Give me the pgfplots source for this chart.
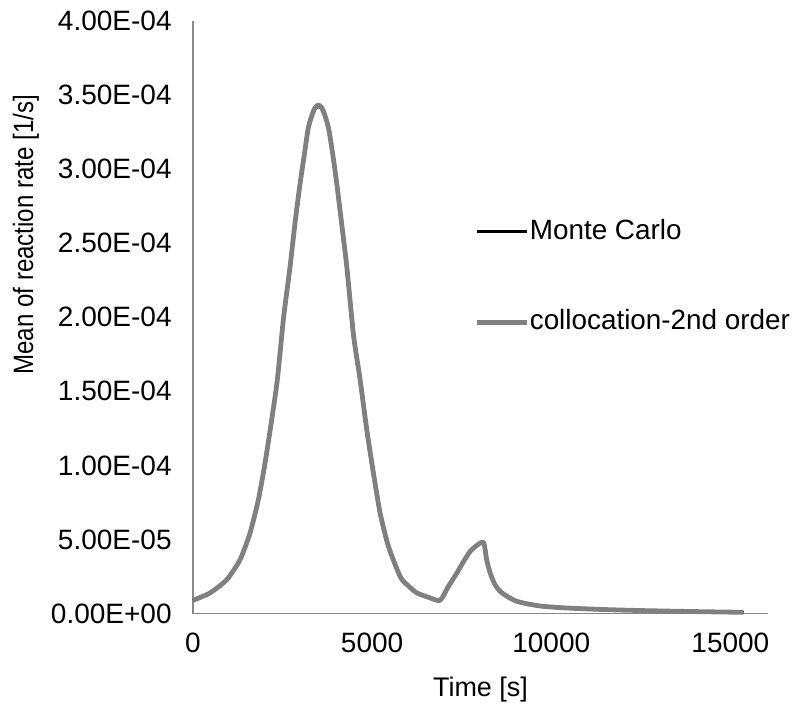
\documentclass[border=0pt]{standalone}
\usepackage{pgfplots}
\pgfplotsset{compat=1.18}
\usepackage{fontspec}
\setmainfont{Liberation Sans}
\newfontfamily\yfam{Liberation Sans}[FakeStretch=0.86]
\definecolor{axgray}{HTML}{898989}
\definecolor{colgray}{HTML}{808080}
\newcommand{\tfont}{\fontsize{21}{25}\selectfont}
\newcommand{\lfont}{\fontsize{20.9}{25}\selectfont}
\newcommand{\xfont}{\fontsize{20.2}{24}\selectfont}
\newcommand{\yfont}{\yfam\fontsize{21}{25}\selectfont}
\pgfplotstableread{
t v
0 9.0e-6
475 1.40e-5
941 2.29e-5
1313 3.64e-5
1592 5.44e-5
1824 7.68e-5
2011 1.016e-4
2198 1.31e-4
2355 1.58e-4
2530 2.00e-4
2709 2.34e-4
2850 2.64e-4
2988 2.90e-4
3110 3.10e-4
3221 3.28e-4
3360 3.39e-4
3430 3.42e-4
3500 3.43e-4
3570 3.42e-4
3640 3.39e-4
3779 3.28e-4
3900 3.10e-4
4013 2.90e-4
4150 2.63e-4
4293 2.34e-4
4480 1.88e-4
4664 1.58e-4
4851 1.24e-4
5036 9.48e-5
5223 6.79e-5
5455 4.54e-5
5782 2.51e-5
6000 1.90e-5
6248 1.40e-5
6600 1.08e-5
6899 9.0e-6
7120 1.80e-5
7365 2.74e-5
7560 3.55e-5
7737 4.20e-5
7920 4.60e-5
8110 4.80e-5
8200 3.60e-5
8296 2.74e-5
8420 2.00e-5
8574 1.50e-5
8800 1.12e-5
9040 8.3e-6
9400 6.3e-6
9784 4.9e-6
10300 4.0e-6
10810 3.4e-6
11700 2.6e-6
12670 2.0e-6
14000 1.4e-6
15370 0.9e-6
}\colloc
\pgfplotstableread{
t v
0 9.0e-6
475 1.40e-5
941 2.29e-5
1313 3.64e-5
1592 5.44e-5
1824 7.68e-5
2011 1.016e-4
2198 1.31e-4
2355 1.58e-4
2530 2.00e-4
2709 2.34e-4
2850 2.64e-4
2988 2.90e-4
3110 3.10e-4
3221 3.28e-4
3360 3.38e-4
3430 3.41e-4
3500 3.42e-4
3570 3.41e-4
3640 3.38e-4
3779 3.27e-4
3900 3.09e-4
4013 2.88e-4
4150 2.61e-4
4293 2.32e-4
4480 1.86e-4
4664 1.56e-4
4851 1.22e-4
5036 9.30e-5
5223 6.65e-5
5455 4.44e-5
5782 2.45e-5
6000 1.86e-5
6248 1.38e-5
6600 1.07e-5
6899 9.0e-6
7120 1.80e-5
7365 2.74e-5
7560 3.55e-5
7737 4.20e-5
7920 4.60e-5
8110 4.80e-5
8200 3.60e-5
8296 2.74e-5
8420 2.00e-5
8574 1.50e-5
8800 1.12e-5
9040 8.3e-6
9400 6.3e-6
9784 4.9e-6
10300 4.0e-6
10810 3.4e-6
11700 2.6e-6
12670 2.0e-6
14000 1.4e-6
15370 0.9e-6
}\monte
\begin{document}
\begin{tikzpicture}[font=\tfont]
\begin{axis}[
  scale only axis,
  width=431.25pt, height=444.75pt,
  xmin=0, xmax=16050,
  ymin=0, ymax=4e-4,
  axis x line=bottom, axis y line=left,
  axis line style={-, axgray, line width=1pt},
  major tick length=0pt,
  /pgf/number format/assume math mode=true,
  xtick={0,5000,10000,15000},
  xticklabels={0,5000,10000,15000},
  ytick={0,5e-5,1e-4,1.5e-4,2e-4,2.5e-4,3e-4,3.5e-4,4e-4},
  yticklabels={0.00E+00,5.00E-05,1.00E-04,1.50E-04,2.00E-04,2.50E-04,3.00E-04,3.50E-04,4.00E-04},
  scaled y ticks=false, scaled x ticks=false,
  every tick label/.append style={font=\tfont},
  yticklabel style={xshift=-12.5pt},
  xticklabel style={yshift=-11pt},
  xlabel={Time [s]},
  ylabel={Mean of reaction rate [1/s]},
  xlabel style={font=\xfont, at={(axis description cs:0.5,0)}, anchor=base, yshift=-62pt},
  ylabel style={font=\yfont, at={(axis description cs:-0.278,0.639)}, anchor=base},
  legend style={draw=none, fill=none, at={(axis description cs:0.49,0.5675)}, anchor=west,
    inner sep=0pt, row sep=49pt,
    nodes={inner sep=0pt, text height=15pt, text depth=4pt, anchor=west},
    font=\lfont},
  legend cell align=left,
  legend image code/.code={\draw[#1] (0pt,0pt) -- (37.5pt,0pt);},
  clip=false,
]
\addplot[black, line width=2.2pt, smooth, tension=0.4] table[x=t,y=v] {\monte};
\addlegendentry{Monte Carlo}
\addplot[colgray, line width=3.6pt, line join=round, smooth, tension=0.4] table[x=t,y=v] {\colloc};
\addlegendentry{collocation-2nd order}
\coordinate (o) at (rel axis cs:0,0);
\coordinate (e) at (rel axis cs:1,1);
\end{axis}
\path[use as bounding box] ([xshift=-144.75pt,yshift=-70.5pt]o) rectangle ([xshift=20.25pt,yshift=15.5pt]e);
\end{tikzpicture}
\end{document}
